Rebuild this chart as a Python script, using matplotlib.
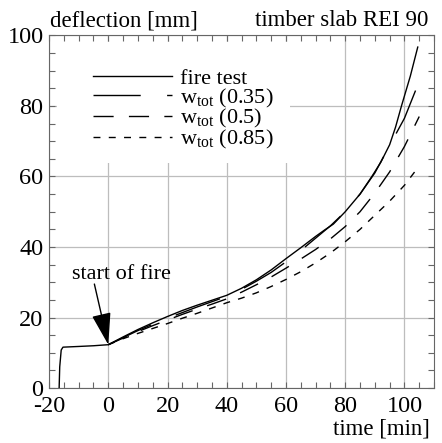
import matplotlib
matplotlib.use("Agg")
import matplotlib.pyplot as plt
from matplotlib.patches import Rectangle
from matplotlib.ticker import MultipleLocator

plt.rcParams['font.family'] = ['Liberation Serif', 'DejaVu Serif']
plt.rcParams['mathtext.fontset'] = 'custom'
plt.rcParams['mathtext.rm'] = 'Liberation Serif'
plt.rcParams['mathtext.it'] = 'Liberation Serif:italic'
plt.rcParams['axes.unicode_minus'] = False
plt.rcParams['lines.scale_dashes'] = False

# measured deflection, including the loading phase before ignition
t_test = [-16.6, -16.4, -15.9, -15.3, -10, -5, 0, 5, 10, 15, 20, 25, 30, 35, 40,
          45, 50, 55, 60, 65, 70, 73, 76, 80, 85, 89, 92, 95, 97, 99, 102, 104.5]
w_test = [0, 6.0, 10.8, 11.6, 11.8, 12.0, 12.3, 14.5, 16.6, 18.5, 20.3, 22.0, 23.5, 24.9, 26.3,
          28.3, 30.7, 33.5, 36.7, 39.8, 43.0, 44.8, 46.5, 50.0, 55.0, 60.0, 64.0, 69.0, 74.0, 80.0, 88.5, 96.7]

# calculated deflection w_tot for three load ratios
t_calc = [0, 5, 10, 15, 20, 25, 30, 35, 40, 45, 50, 55, 60, 65, 70, 75, 80, 85, 90, 95, 100, 105]
w_035 = [12.3, 14.3, 16.3, 18.1, 19.8, 21.4, 23.0, 24.5, 26.0, 28.0, 30.3, 32.8, 35.8, 39.0,
         42.5, 46.0, 50.0, 55.0, 61.0, 68.8, 76.5, 87.0]
w_05 = [12.3, 14.2, 16.0, 17.7, 19.3, 20.9, 22.4, 23.8, 25.3, 27.2, 29.3, 31.5, 34.0, 36.6,
        39.3, 42.3, 45.8, 50.0, 55.3, 61.3, 68.5, 77.0]
w_085 = [12.3, 14.0, 15.5, 16.9, 18.3, 19.8, 21.2, 22.7, 24.2, 25.5, 27.0, 28.8, 30.8, 33.0,
         35.5, 38.3, 41.5, 45.0, 49.0, 53.0, 57.5, 63.0]

labels = ['fire test', 'w$_{\\rm tot}$ (0.35)', 'w$_{\\rm tot}$ (0.5)', 'w$_{\\rm tot}$ (0.85)']

fig = plt.figure(figsize=(4.42, 4.43), dpi=100)
ax = fig.add_axes([0.111, 0.124, 0.871, 0.796])

ax.plot(t_test, w_test, color='black', lw=1.0, label=labels[0], zorder=3)
ax.plot(t_calc, w_035, color='black', lw=1.0, dashes=(34, 19), label=labels[1], zorder=3)
ax.plot(t_calc, w_05, color='black', lw=1.0, dashes=(14.5, 11), label=labels[2], zorder=3)
ax.plot(t_calc, w_085, color='black', lw=1.0, dashes=(5, 6), label=labels[3], zorder=3)

ax.set_xlim(-20, 110)
ax.set_ylim(0, 100)
ax.xaxis.set_major_locator(MultipleLocator(20))
ax.xaxis.set_minor_locator(MultipleLocator(5))
ax.yaxis.set_major_locator(MultipleLocator(20))
ax.yaxis.set_minor_locator(MultipleLocator(5))
ax.set_axisbelow(True)
ax.grid(True, which='major', color='#bdbdbd', lw=0.9)
ax.tick_params(which='both', direction='in', top=True, right=True, length=4.3,
               width=0.8, color='#666666', labelsize=17.5)
ax.tick_params(axis='x', pad=6)
ax.tick_params(axis='y', pad=4)
for sp in ax.spines.values():
    sp.set_color('#666666')
    sp.set_linewidth(0.8)

# blank area behind the legend
ax.add_patch(Rectangle((0.02, 0.637), 0.606, 0.343, transform=ax.transAxes,
                       facecolor='white', edgecolor='none', zorder=1))

ax.legend(loc='upper left', bbox_to_anchor=(0.114, 0.907), frameon=False, fontsize=16,
          handlelength=3.55, handletextpad=0.35, labelspacing=-0.1, borderpad=0,
          borderaxespad=0)

ax.text(4.4, 30.9, 'start of fire', ha='center', va='baseline', fontsize=16)
ax.annotate('', xy=(0, 12.3), xytext=(-4.7, 29.5),
            arrowprops=dict(arrowstyle='-|>,head_length=2.0,head_width=0.6', mutation_scale=10,
                            lw=1.0, color='black', shrinkA=0, shrinkB=0), zorder=4)

fig.text(50 / 442, 1 - 26 / 443, 'deflection [mm]', fontsize=16.5, va='baseline')
fig.text(428 / 442, 1 - 26 / 443, 'timber slab REI 90', fontsize=16.5, va='baseline', ha='right')
fig.text(430 / 442, 1 - 434 / 443, 'time [min]', fontsize=16.5, va='baseline', ha='right')

fig.savefig('out.png', dpi=100)
